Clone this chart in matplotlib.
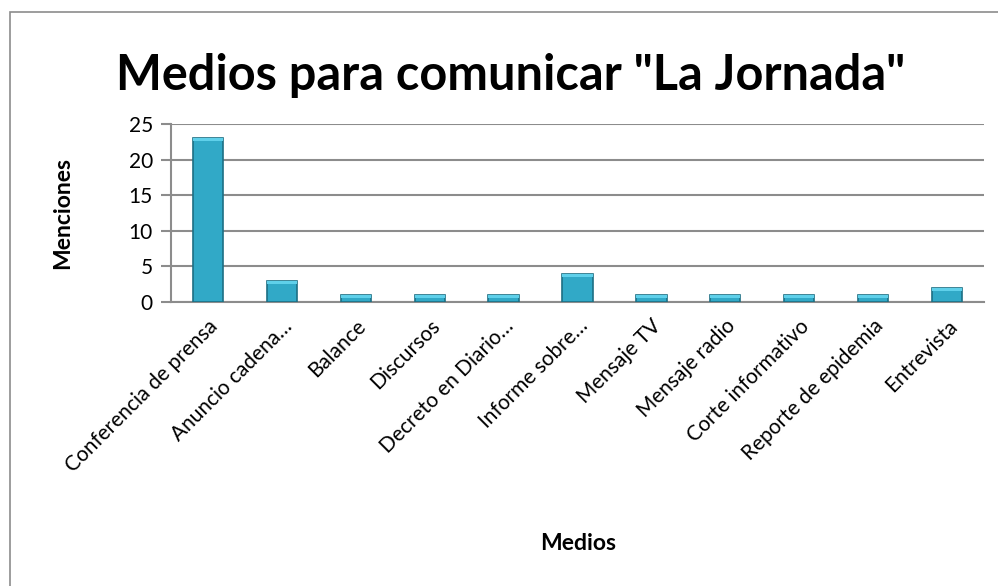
import matplotlib
matplotlib.use("Agg")
import matplotlib.pyplot as plt
from matplotlib.patches import Rectangle

categories = ["Conferencia de prensa", "Anuncio cadena…", "Balance", "Discursos",
              "Decreto en Diario…", "Informe sobre…", "Mensaje TV", "Mensaje radio",
              "Corte informativo", "Reporte de epidemia", "Entrevista"]
values = [23, 3, 1, 1, 1, 4, 1, 1, 1, 1, 2]
yticks = [0, 5, 10, 15, 20, 25]

plt.rcParams['font.family'] = ['Lato', 'DejaVu Sans']

W, H = 998, 586
fig = plt.figure(figsize=(W/100, H/100), dpi=100)
ax = fig.add_axes([171/W, 1-302/H, (984-171)/W, (302-124)/H])

x = list(range(len(categories)))
ax.bar(x, values, width=0.41, color='#31a9c7', edgecolor='#1d6f84', linewidth=1.2, zorder=3)
# lighter top bevel
ax.bar(x, [min(v, 0.45) for v in values], bottom=[v - min(v, 0.45) for v in values],
       width=0.41, color='#5fd0ea', linewidth=0, zorder=4)

ax.set_xlim(-0.5, len(categories) - 0.5)
ax.set_ylim(0, 25)
ax.set_yticks(yticks)
ax.set_yticklabels([str(t) for t in yticks], fontsize=15)
ax.set_xticks(x)
ax.set_xticklabels(categories, rotation=45, ha='right', rotation_mode='anchor', fontsize=15)
ax.tick_params(axis='x', length=0, pad=10)
ax.tick_params(axis='y', length=7, width=1.5, color='#8c8c8c', pad=6)
ax.grid(axis='y', color='#8c8c8c', linewidth=1.5, zorder=0)
for s in ['top', 'right']:
    ax.spines[s].set_visible(False)
ax.spines['left'].set_color('#8c8c8c')
ax.spines['left'].set_linewidth(1.5)
ax.spines['bottom'].set_color('#8c8c8c')
ax.spines['bottom'].set_linewidth(1.5)

fig.text(63/W, 1-213/H, 'Menciones', fontsize=16.5, fontweight='bold', rotation=90,
         ha='center', va='center')
fig.text(578/W, 1-543/H, 'Medios', fontsize=16.5, fontweight='bold', ha='center', va='center')
fig.text(511/W, 1-75/H, 'Medios para comunicar "La Jornada"', fontsize=35, fontweight='bold',
         ha='center', va='center')

fig.patches.append(Rectangle((10/W, -0.1), 1.2, 1.1 - 12/H, transform=fig.transFigure,
                             fill=False, edgecolor='#8c8c8c', linewidth=1.2))

fig.savefig('out.png', dpi=100)
